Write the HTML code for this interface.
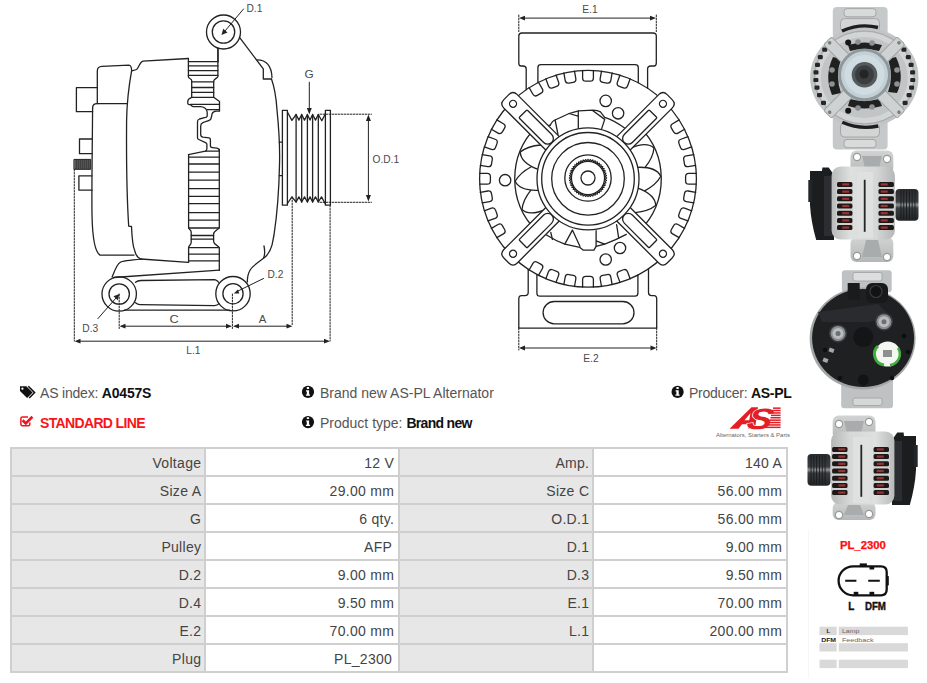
<!DOCTYPE html>
<html><head><meta charset="utf-8">
<style>
html,body{margin:0;padding:0;background:#fff;}
body{width:927px;height:683px;position:relative;overflow:hidden;font-family:"Liberation Sans",sans-serif;}
.a{position:absolute;}
.t{position:absolute;white-space:nowrap;font-size:14px;line-height:14px;color:#555;}
.tb{background:#cfcfcf;}
.c{position:absolute;height:26px;width:192px;}
.c.l{background:#e7e7e7;}
.c.l span{right:2.7px;}
.c.v{background:#fff;}
.c span{position:absolute;right:3.8px;top:7.4px;letter-spacing:0.3px;font-size:14px;line-height:14px;color:#444;white-space:nowrap;}
b{color:#111;}
svg text{font-family:"Liberation Sans",sans-serif;}
</style></head><body>
<svg class="a" style="left:0;top:0" width="927" height="683" viewBox="0 0 927 683">
<g fill="none" stroke="#222" stroke-width="1.3" stroke-linejoin="round" stroke-linecap="round">
<!-- D.1 -->
<circle cx="223.5" cy="32" r="17"/>
<circle cx="223.5" cy="32" r="11.2"/>
<line x1="243.5" y1="9" x2="225" y2="31" stroke-width="1"/>
<path d="M221.5,35 L223.2,28.8 L227.5,32.5 Z" fill="#222" stroke="none"/>
<text x="246.5" y="12.1" font-size="10.2" fill="#4a4a4a" stroke="none">D.1</text>
<!-- stem + diagonal + bump -->
<path d="M218,48.5 L218,61.7"/>
<path d="M239.7,37.7 L263.3,68.9 L263.3,79 L271.5,79"/>
<path d="M257.2,59.9 C266,60 271.5,66 272,77.5"/>
<!-- front housing right edge -->
<path d="M271.5,79 C274,86 276,95 277,110 C279,130 280,150 279.5,165 C279,190 277,215 274,235 C273,240 272.5,243 272,245 C270,252 267,256 263.5,258.3 C257,263 251,267 249.4,271.5 C248,274 247.4,278 247.3,282"/>
<path d="M264,246 C265,251 265,255 263.5,258.3"/>
<!-- shaft -->
<path d="M279.3,142.2 L282.3,142.2 M279.3,175.6 L282.3,175.6"/>
<!-- pulley -->
<rect x="282.4" y="110.3" width="5" height="94.9"/>
<rect x="325.4" y="110.3" width="5" height="94.9"/>
<path d="M287.4,112 L291.9,120.4 L296.1,114.5 L298.9,120.1 L301.7,114.5 L304.5,120.1 L307.4,114.5 L310,120.1 L312.6,114.5 L315.5,120.1 L318.3,114.5 L321.8,120.7 L325.4,113.9"/>
<path d="M287.4,203.5 L291.9,196.9 L296.1,202 L298.9,196.9 L301.7,202 L304.5,196.9 L307.4,202 L310,196.9 L312.6,202 L315.5,196.9 L318.3,202 L321.5,196.9 L325.4,204"/>
<path d="M296.1,114.5 V202 M301.7,114.5 V202 M307.4,114.5 V202 M312.6,114.5 V202 M318.3,114.5 V202"/>
<!-- G -->
<text x="304.5" y="78.1" font-size="10.2" fill="#4a4a4a" stroke="none" textLength="9.2" lengthAdjust="spacingAndGlyphs">G</text>
<line x1="309.3" y1="82.2" x2="309.3" y2="110" stroke-width="1"/>
<path d="M306.8,108 L311.8,108 L309.3,114.5 Z" fill="#222" stroke="none"/>
<!-- O.D.1 -->
<path d="M320,114.2 H371.5 M320,202.3 H371.5" stroke-width="1" stroke-dasharray="1.6 1.4"/>
<line x1="368.4" y1="119" x2="368.4" y2="197" stroke-width="1"/>
<path d="M365.9,121 L370.9,121 L368.4,114.5 Z M365.9,195 L370.9,195 L368.4,201.5 Z" fill="#222" stroke="none"/>
<text x="372.5" y="162.9" font-size="10.2" fill="#4a4a4a" stroke="none">O.D.1</text>
<!-- dotted verticals -->
<path d="M292.2,197 V326 M330.1,205.5 V341 M74.3,169.5 V341 M119.2,294 V328.5 M232.4,294 V328.5" stroke-width="1" stroke-dasharray="1.6 1.4"/>
<!-- dims A C L.1 -->
<path d="M124,326.2 H228 M237,326.2 H288 M80,341.2 H325" stroke-width="1"/>
<path d="M119.5,326.2 L125.5,323.8 L125.5,328.6 Z M232,326.2 L226,323.8 L226,328.6 Z M233,326.2 L239,323.8 L239,328.6 Z M292.5,326.2 L286.5,323.8 L286.5,328.6 Z M74.5,341.2 L80.5,338.8 L80.5,343.6 Z M330,341.2 L324,338.8 L324,343.6 Z" fill="#222" stroke="none"/>
<text x="169.5" y="323.2" font-size="10.2" fill="#4a4a4a" stroke="none" textLength="9.2" lengthAdjust="spacingAndGlyphs">C</text>
<text x="258.8" y="323.0" font-size="10.2" fill="#4a4a4a" stroke="none" textLength="7.6" lengthAdjust="spacingAndGlyphs">A</text>
<text x="186.3" y="354.1" font-size="10.2" fill="#4a4a4a" stroke="none">L.1</text>
<!-- D.2 -->
<circle cx="233" cy="293.7" r="17.2"/>
<circle cx="233" cy="293.7" r="10.1"/>
<line x1="263.5" y1="278.5" x2="238" y2="291" stroke-width="1"/>
<path d="M233.8,293.4 L237.8,289.6 L239.3,293.4 Z" fill="#222" stroke="none"/>
<text x="267.5" y="278.3" font-size="10.2" fill="#4a4a4a" stroke="none">D.2</text>
<!-- D.3 -->
<circle cx="119.2" cy="294" r="17.2"/>
<circle cx="119.2" cy="294" r="10.2"/>
<line x1="97.9" y1="318.6" x2="116" y2="298" stroke-width="1"/>
<path d="M119.4,294 L117.8,300.3 L113.5,296.3 Z" fill="#222" stroke="none"/>
<text x="82.3" y="331.8" font-size="10.2" fill="#4a4a4a" stroke="none">D.3</text>
<!-- bracket/arm -->
<path d="M112.1,277 C115,270 117,264 120,262.5 C122,261 126,260.4 142,259.2"/>
<path d="M113.6,277.5 L219.3,270.2"/>
<path d="M135.5,282.3 C137,281 139,280.5 141,280.5 L214.8,279.6 C216.5,280 218,281 218.6,282.3"/>
<path d="M135.5,302.7 C137,304 138,304.6 140,304.6 L214.5,305.6 C216.5,305.5 218,304.8 219.2,303.6"/>
<path d="M124.2,310.2 H229.9"/>
<!-- left blocks -->
<path d="M97.3,103.7 V71 C97.3,67.5 99,66.4 102,66.3 L128.8,65.2 C130.5,65.3 131.6,67 131.6,70.8"/>
<path d="M92.6,108 C92.6,105 94,103.7 97,103.7 L126.6,103.7"/>
<path d="M92.6,108 C92.3,150 91.6,190 92,215 C92.5,240 95,252 100,255.1 L134,255.1"/>
<path d="M97.3,87.6 H76.4 V111.7 H92.6"/>
<path d="M92,139 H79.5 V153.7 H92"/>
<path d="M92,175.8 H78.9 V190.2 H92"/>
<rect x="74.3" y="159.4" width="16.4" height="9.9" fill="#555" stroke="#222" stroke-width="1"/>
<path d="M76.5,160 V169 M78.5,160 V169 M80.5,160 V169 M82.5,160 V169 M84.5,160 V169 M86.5,160 V169 M88.5,160 V169" stroke="#333" stroke-width="0.6"/>
<!-- main body -->
<path d="M131.6,70.8 C133,70.5 135,70.3 136.5,69.5 C139,68 139.5,62 143,61.2 L188.4,58.5"/>
<path d="M131.6,70.8 C129,85 127,100 126.6,120 C126.3,160 127,200 128.7,226.2 L131.5,226.5 C132,238 133.5,248 134.7,250.6 C136,256 137.5,258 141,259 L188.4,262.4"/>
<!-- fins upper -->
<path d="M188.4,58.5 V77 C188.4,78.5 191.7,78.5 191.7,80.5 V97.3 C189,98.5 187.8,99.5 187.8,101 V103.2 C187.8,104 189,104.7 190.4,104.7 C191.5,105.5 192,106.7 193.5,106.7 L200.7,106.7 C203.5,107 205.5,108 206.5,110 C207.1,111 207.2,112 207.2,113.1 V116.3 C206.8,117.2 205.5,117.6 204.6,117.7 L199.4,119 C198,119.5 197.5,120.3 197.5,121.8 V137.8 C197.5,138.8 198,139.2 198.8,139.5 L205.5,142.7 C206.5,143.2 206.9,143.7 206.9,144.6 V148.6 C206.9,150 206.5,150.8 205.4,151.1 L188.4,154.6"/>
<path d="M217.9,48.5 V76.5 C217.9,78 213.7,79 213.7,81 V97.3 L219.5,101.5 V111.2 L216.2,111.2 C213.8,111.4 212.6,112.3 212.1,113.8 L211.4,117 C211.1,118.5 210.8,119.2 210.2,119.7 C209,120.8 207.5,121.1 205.9,121.5 L202.9,122.7 C201.3,123.4 200.7,124.5 200.7,126.1 V134.5 C200.7,136 201.5,136.9 202.9,137.1 L209.1,137.8 C210,138 210.4,138.6 210.4,139.6 V145.5 C210.4,146.8 211.2,147.5 212.4,147.6 L216.9,148.1 C218.6,148.5 219.4,149.3 219.4,150.6"/>
<path d="M188.4,61.7 H217.9 M188.4,65.8 H217.9 M188.4,70.6 H217.9 M188.4,75.4 H217.9 M191.7,81.9 H213.7 M191.7,87.5 H213.7 M191.7,92.3 H213.7 M191.7,97.3 H213.7 M190.4,104.4 H219.5 M207,109.6 H219.5 M205.4,151.2 H219.4"/>
<!-- fins lower -->
<path d="M188.6,262.3 V247.5 C188.6,245.5 191.2,245 191.2,242.5 V232 C191.2,229.5 188.6,229.5 188.6,227.5 V155"/>
<path d="M219.3,149.5 V227.5 C219.3,229.5 213.6,230.5 213.6,234 V241.5 C213.6,245 219.3,245.5 219.3,248 V270.4"/>
<path d="M188.6,157.1 H219.3 M188.6,164 H219.3 M188.6,172.2 H219.3 M188.6,180.2 H219.3 M188.6,188.6 H219.3 M188.6,196.3 H219.3 M188.6,203.6 H219.3 M188.6,212.7 H219.3 M188.6,220.1 H219.3 M188.6,228 H219.3 M191.2,235.5 H213.6 M191.2,239.1 H213.6 M188.6,247.6 H219.3 M188.6,254.2 H219.3 M188.6,260.8 H219.3"/>

<text x="582.3" y="13.4" font-size="10.2" fill="#4a4a4a" stroke="none">E.1</text>
<path d="M518.8,15 V33 M656.3,15 V33" stroke-width="1" stroke-dasharray="1.6 1.4"/>
<line x1="524" y1="18.1" x2="651" y2="18.1" stroke-width="1"/>
<path d="M519,18.1 L525,15.7 L525,20.5 Z M656,18.1 L650,15.7 L650,20.5 Z" fill="#222" stroke="none"/>
<text x="583.3" y="361.8" font-size="10.2" fill="#4a4a4a" stroke="none">E.2</text>
<path d="M518.8,328 V350 M656.7,328 V350" stroke-width="1" stroke-dasharray="1.6 1.4"/>
<line x1="524" y1="348" x2="651" y2="348" stroke-width="1"/>
<path d="M519,348 L525,345.6 L525,350.4 Z M656.5,348 L650.5,345.6 L650.5,350.4 Z" fill="#222" stroke="none"/>
<path d="M526.2,89.7 V69 C526.2,67 525,66 523,66 L521,66 C519.5,66 518.8,65 518.8,63 V36 C518.8,34 520,33 522,33 L653,33 C655,33 656.3,34 656.3,36 V63 C656.3,65 655.5,66 654,66 L651,66 C649,66 647.6,67 647.6,69 V88.3"/>
<path d="M537.9,82.7 V67.5 C537.9,65.5 539,64.7 541,64.7 L635,64.7 C637,64.7 638.3,65.5 638.3,67.5 V82.8"/>
<path d="M528.2,269.2 V292.5 C528.2,294.5 527,295.6 525,295.6 L521.5,295.6 C519.5,295.6 518.8,297 518.8,299 V328.1 H656.7 V299 C656.7,297 656,295.6 654,295.6 L651.5,295.6 C649.5,295.6 648.5,294.5 648.5,292.5 V268.7"/>
<path d="M536.9,274.4 V293 C536.9,295 538,296.2 540,296.2 L635,296.2 C637,296.2 637.9,295 637.9,293 V275.0"/>
<rect x="543.1" y="301.5" width="90.9" height="22.3" rx="11.15"/>
<circle cx="588.0" cy="178.8" r="108.4"/>
<path transform="rotate(0 588.0 178.8)" d="M582.6,70.4 V78.0 Q582.6,81.2 585.8000000000001,81.2 H590.1999999999999 Q593.4,81.2 593.4,78.0 V70.4"/>
<path transform="rotate(10 588.0 178.8)" d="M582.6,70.4 V78.0 Q582.6,81.2 585.8000000000001,81.2 H590.1999999999999 Q593.4,81.2 593.4,78.0 V70.4"/>
<path transform="rotate(20 588.0 178.8)" d="M582.6,70.4 V78.0 Q582.6,81.2 585.8000000000001,81.2 H590.1999999999999 Q593.4,81.2 593.4,78.0 V70.4"/>
<path transform="rotate(60 588.0 178.8)" d="M582.6,70.4 V78.0 Q582.6,81.2 585.8000000000001,81.2 H590.1999999999999 Q593.4,81.2 593.4,78.0 V70.4"/>
<path transform="rotate(70 588.0 178.8)" d="M582.6,70.4 V78.0 Q582.6,81.2 585.8000000000001,81.2 H590.1999999999999 Q593.4,81.2 593.4,78.0 V70.4"/>
<path transform="rotate(80 588.0 178.8)" d="M582.6,70.4 V78.0 Q582.6,81.2 585.8000000000001,81.2 H590.1999999999999 Q593.4,81.2 593.4,78.0 V70.4"/>
<path transform="rotate(90 588.0 178.8)" d="M582.6,70.4 V78.0 Q582.6,81.2 585.8000000000001,81.2 H590.1999999999999 Q593.4,81.2 593.4,78.0 V70.4"/>
<path transform="rotate(100 588.0 178.8)" d="M582.6,70.4 V78.0 Q582.6,81.2 585.8000000000001,81.2 H590.1999999999999 Q593.4,81.2 593.4,78.0 V70.4"/>
<path transform="rotate(110 588.0 178.8)" d="M582.6,70.4 V78.0 Q582.6,81.2 585.8000000000001,81.2 H590.1999999999999 Q593.4,81.2 593.4,78.0 V70.4"/>
<path transform="rotate(120 588.0 178.8)" d="M582.6,70.4 V78.0 Q582.6,81.2 585.8000000000001,81.2 H590.1999999999999 Q593.4,81.2 593.4,78.0 V70.4"/>
<path transform="rotate(160 588.0 178.8)" d="M582.6,70.4 V78.0 Q582.6,81.2 585.8000000000001,81.2 H590.1999999999999 Q593.4,81.2 593.4,78.0 V70.4"/>
<path transform="rotate(170 588.0 178.8)" d="M582.6,70.4 V78.0 Q582.6,81.2 585.8000000000001,81.2 H590.1999999999999 Q593.4,81.2 593.4,78.0 V70.4"/>
<path transform="rotate(180 588.0 178.8)" d="M582.6,70.4 V78.0 Q582.6,81.2 585.8000000000001,81.2 H590.1999999999999 Q593.4,81.2 593.4,78.0 V70.4"/>
<path transform="rotate(190 588.0 178.8)" d="M582.6,70.4 V78.0 Q582.6,81.2 585.8000000000001,81.2 H590.1999999999999 Q593.4,81.2 593.4,78.0 V70.4"/>
<path transform="rotate(200 588.0 178.8)" d="M582.6,70.4 V78.0 Q582.6,81.2 585.8000000000001,81.2 H590.1999999999999 Q593.4,81.2 593.4,78.0 V70.4"/>
<path transform="rotate(210 588.0 178.8)" d="M582.6,70.4 V78.0 Q582.6,81.2 585.8000000000001,81.2 H590.1999999999999 Q593.4,81.2 593.4,78.0 V70.4"/>
<path transform="rotate(240 588.0 178.8)" d="M582.6,70.4 V78.0 Q582.6,81.2 585.8000000000001,81.2 H590.1999999999999 Q593.4,81.2 593.4,78.0 V70.4"/>
<path transform="rotate(250 588.0 178.8)" d="M582.6,70.4 V78.0 Q582.6,81.2 585.8000000000001,81.2 H590.1999999999999 Q593.4,81.2 593.4,78.0 V70.4"/>
<path transform="rotate(260 588.0 178.8)" d="M582.6,70.4 V78.0 Q582.6,81.2 585.8000000000001,81.2 H590.1999999999999 Q593.4,81.2 593.4,78.0 V70.4"/>
<path transform="rotate(270 588.0 178.8)" d="M582.6,70.4 V78.0 Q582.6,81.2 585.8000000000001,81.2 H590.1999999999999 Q593.4,81.2 593.4,78.0 V70.4"/>
<path transform="rotate(280 588.0 178.8)" d="M582.6,70.4 V78.0 Q582.6,81.2 585.8000000000001,81.2 H590.1999999999999 Q593.4,81.2 593.4,78.0 V70.4"/>
<path transform="rotate(290 588.0 178.8)" d="M582.6,70.4 V78.0 Q582.6,81.2 585.8000000000001,81.2 H590.1999999999999 Q593.4,81.2 593.4,78.0 V70.4"/>
<path transform="rotate(300 588.0 178.8)" d="M582.6,70.4 V78.0 Q582.6,81.2 585.8000000000001,81.2 H590.1999999999999 Q593.4,81.2 593.4,78.0 V70.4"/>
<path transform="rotate(330 588.0 178.8)" d="M582.6,70.4 V78.0 Q582.6,81.2 585.8000000000001,81.2 H590.1999999999999 Q593.4,81.2 593.4,78.0 V70.4"/>
<path transform="rotate(340 588.0 178.8)" d="M582.6,70.4 V78.0 Q582.6,81.2 585.8000000000001,81.2 H590.1999999999999 Q593.4,81.2 593.4,78.0 V70.4"/>
<path transform="rotate(350 588.0 178.8)" d="M582.6,70.4 V78.0 Q582.6,81.2 585.8000000000001,81.2 H590.1999999999999 Q593.4,81.2 593.4,78.0 V70.4"/>
<path d="M639.8,127.0 A73.2,73.2 0 0 1 639.8,230.6"/>
<path fill="#fff" stroke="none" d="M654.0,148.0 Q646.3,140.9 629.3,148.8 L638.2,169.9 L644.9,167.7 Q653.1,157.6 654.0,148.0 Z"/>
<path d="M629.3,148.8 Q646.3,140.9 654.0,148.0 Q653.1,157.6 644.9,167.7"/>
<path fill="#fff" stroke="none" d="M660.8,176.3 Q656.4,166.7 637.7,167.3 L637.7,190.3 L644.7,190.9 Q656.2,184.8 660.8,176.3 Z"/>
<path d="M637.7,167.3 Q656.4,166.7 660.8,176.3 Q656.2,184.8 644.7,190.9"/>
<path fill="#fff" stroke="none" d="M655.7,205.6 Q655.6,195.1 638.1,188.2 L628.9,209.2 L635.2,212.6 Q648.1,211.6 655.7,205.6 Z"/>
<path d="M638.1,188.2 Q655.6,195.1 655.7,205.6 Q648.1,211.6 635.2,212.6"/>
<path d="M536.2,230.6 A73.2,73.2 0 0 1 536.2,127.0"/>
<path fill="#fff" stroke="none" d="M522.0,209.6 Q529.7,216.7 546.7,208.8 L537.8,187.7 L531.1,189.9 Q522.9,200.0 522.0,209.6 Z"/>
<path d="M546.7,208.8 Q529.7,216.7 522.0,209.6 Q522.9,200.0 531.1,189.9"/>
<path fill="#fff" stroke="none" d="M515.2,181.3 Q519.6,190.9 538.3,190.3 L538.3,167.3 L531.3,166.7 Q519.8,172.8 515.2,181.3 Z"/>
<path d="M538.3,190.3 Q519.6,190.9 515.2,181.3 Q519.8,172.8 531.3,166.7"/>
<path fill="#fff" stroke="none" d="M520.3,152.0 Q520.4,162.5 537.9,169.4 L547.1,148.4 L540.8,145.0 Q527.9,146.0 520.3,152.0 Z"/>
<path d="M537.9,169.4 Q520.4,162.5 520.3,152.0 Q527.9,146.0 540.8,145.0"/>
<path d="M546,129 Q549,124 550.2,125.4 Q552,121 555.1,120 L569.1,113.5 Q574,112 578.8,110.8 L592.9,110.2 Q598,110.5 600.4,111.9 L604.7,117.3 Q614,120 626,129"/>
<path d="M555.1,120 L558,134.5 M569.1,113.5 L578,116.2 M578.3,110.8 V128 M592.9,110.8 L604.7,119.4 L601.5,129.1"/>
<path d="M546.5,235 Q556,241 564.8,244.1 L579.9,247.4 L583.1,250.1 L593.9,250.1 L596.1,246.3 L604.7,244.1 Q616,240 626.3,234.4"/>
<path d="M550.8,232.3 L552.4,239.3 M572.4,230.1 L564.8,244.1 M572.4,230.1 L579.9,246.3 M596.1,230.6 V246.3 M596.1,240.9 L604.7,244.1 M616.6,224.7 L618.7,238.2"/>
<g transform="rotate(45 588.0 178.8)"><path d="M578.5,136.8 V69.30000000000001 Q578.5,63.30000000000001 584.5,63.30000000000001 H591.5 Q597.5,63.30000000000001 597.5,69.30000000000001 V136.8" fill="#fff"/><circle cx="588.0" cy="72.80000000000001" r="3.5"/><path d="M582.3,87.80000000000001 Q582.3,86.80000000000001 583.3,86.80000000000001 H592.7 Q593.7,86.80000000000001 593.7,87.80000000000001 V121.80000000000001 A5.7,5.7 0 0 1 582.3,121.80000000000001 Z"/></g>
<g transform="rotate(135 588.0 178.8)"><path d="M578.5,136.8 V69.30000000000001 Q578.5,63.30000000000001 584.5,63.30000000000001 H591.5 Q597.5,63.30000000000001 597.5,69.30000000000001 V136.8" fill="#fff"/><circle cx="588.0" cy="72.80000000000001" r="3.5"/><path d="M582.3,87.80000000000001 Q582.3,86.80000000000001 583.3,86.80000000000001 H592.7 Q593.7,86.80000000000001 593.7,87.80000000000001 V121.80000000000001 A5.7,5.7 0 0 1 582.3,121.80000000000001 Z"/></g>
<g transform="rotate(225 588.0 178.8)"><path d="M578.5,136.8 V69.30000000000001 Q578.5,63.30000000000001 584.5,63.30000000000001 H591.5 Q597.5,63.30000000000001 597.5,69.30000000000001 V136.8" fill="#fff"/><circle cx="588.0" cy="72.80000000000001" r="3.5"/><path d="M582.3,87.80000000000001 Q582.3,86.80000000000001 583.3,86.80000000000001 H592.7 Q593.7,86.80000000000001 593.7,87.80000000000001 V121.80000000000001 A5.7,5.7 0 0 1 582.3,121.80000000000001 Z"/></g>
<g transform="rotate(315 588.0 178.8)"><path d="M578.5,136.8 V69.30000000000001 Q578.5,63.30000000000001 584.5,63.30000000000001 H591.5 Q597.5,63.30000000000001 597.5,69.30000000000001 V136.8" fill="#fff"/><circle cx="588.0" cy="72.80000000000001" r="3.5"/><path d="M582.3,87.80000000000001 Q582.3,86.80000000000001 583.3,86.80000000000001 H592.7 Q593.7,86.80000000000001 593.7,87.80000000000001 V121.80000000000001 A5.7,5.7 0 0 1 582.3,121.80000000000001 Z"/></g>
<circle cx="588.0" cy="178.8" r="51" fill="#fff"/>
<circle cx="588.0" cy="178.8" r="46.3"/>
<circle cx="588.0" cy="178.8" r="36.3"/>
<circle cx="588.0" cy="178.0" r="23.2"/>
<polygon points="588.00,159.30 589.12,160.84 590.44,159.46 591.36,161.13 592.84,159.94 593.53,161.71 595.16,160.72 595.61,162.57 597.35,161.81 597.56,163.70 599.38,163.16 599.34,165.07 601.22,164.78 600.93,166.66 602.84,166.62 602.30,168.44 604.19,168.65 603.43,170.39 605.28,170.84 604.29,172.47 606.06,173.16 604.87,174.64 606.54,175.56 605.16,176.88 606.70,178.00 605.16,179.12 606.54,180.44 604.87,181.36 606.06,182.84 604.29,183.53 605.28,185.16 603.43,185.61 604.19,187.35 602.30,187.56 602.84,189.38 600.93,189.34 601.22,191.22 599.34,190.93 599.38,192.84 597.56,192.30 597.35,194.19 595.61,193.43 595.16,195.28 593.53,194.29 592.84,196.06 591.36,194.87 590.44,196.54 589.12,195.16 588.00,196.70 586.88,195.16 585.56,196.54 584.64,194.87 583.16,196.06 582.47,194.29 580.84,195.28 580.39,193.43 578.65,194.19 578.44,192.30 576.62,192.84 576.66,190.93 574.78,191.22 575.07,189.34 573.16,189.38 573.70,187.56 571.81,187.35 572.57,185.61 570.72,185.16 571.71,183.53 569.94,182.84 571.13,181.36 569.46,180.44 570.84,179.12 569.30,178.00 570.84,176.88 569.46,175.56 571.13,174.64 569.94,173.16 571.71,172.47 570.72,170.84 572.57,170.39 571.81,168.65 573.70,168.44 573.16,166.62 575.07,166.66 574.78,164.78 576.66,165.07 576.62,163.16 578.44,163.70 578.65,161.81 580.39,162.57 580.84,160.72 582.47,161.71 583.16,159.94 584.64,161.13 585.56,159.46 586.88,160.84" stroke-width="1.1"/>
<circle cx="588.0" cy="178.0" r="16.6" stroke-width="1.3"/>
<circle cx="588.0" cy="178.0" r="7"/>
<circle cx="505.1" cy="180.2" r="5.7"/>
<circle cx="605.7" cy="100.9" r="5.7"/>
<circle cx="618.1" cy="113.3" r="5.7"/>
<circle cx="620" cy="248" r="5.7"/>
<circle cx="605.7" cy="259.5" r="5.7"/>
</g>
<defs>
<radialGradient id="gBody" cx="0.45" cy="0.4" r="0.7"><stop offset="0" stop-color="#d4d7d7"/><stop offset="0.7" stop-color="#bfc2c2"/><stop offset="1" stop-color="#a9adad"/></radialGradient>
<linearGradient id="gSide" x1="0" y1="0" x2="1" y2="0"><stop offset="0" stop-color="#b9bbbb"/><stop offset="0.3" stop-color="#dedfdf"/><stop offset="0.7" stop-color="#d6d7d7"/><stop offset="1" stop-color="#b5b7b7"/></linearGradient>
<linearGradient id="gBr" x1="0" y1="0" x2="0" y2="1"><stop offset="0" stop-color="#d2d4d4"/><stop offset="1" stop-color="#b4b7b7"/></linearGradient>
<radialGradient id="gPul" cx="0.5" cy="0.5" r="0.5"><stop offset="0" stop-color="#606060"/><stop offset="0.45" stop-color="#3a3a3a"/><stop offset="0.5" stop-color="#c9d4d9"/><stop offset="0.85" stop-color="#d5dee2"/><stop offset="1" stop-color="#9aa2a6"/></radialGradient>
<linearGradient id="gPulSide" x1="0" y1="0" x2="0" y2="1"><stop offset="0" stop-color="#2a2c2e"/><stop offset="0.4" stop-color="#3a3d40"/><stop offset="0.5" stop-color="#8e9496"/><stop offset="0.6" stop-color="#3a3d40"/><stop offset="1" stop-color="#222426"/></linearGradient>
</defs>
<rect x="832.8" y="6.9" width="54.8" height="32" rx="4" fill="#c6c9c9"/>
<rect x="844" y="8.6" width="32" height="8.2" rx="3" fill="#d9dbdb" stroke="#a3a7a7" stroke-width="1"/>
<rect x="840.5" y="18.6" width="39" height="13" rx="4" fill="#d3d5d5" stroke="#a3a7a7" stroke-width="1"/>
<rect x="832.8" y="114" width="54.8" height="35.5" rx="4" fill="#c6c9c9"/>
<rect x="844" y="139.5" width="32" height="8.2" rx="3" fill="#d9dbdb" stroke="#a3a7a7" stroke-width="1"/>
<rect x="840.5" y="123" width="39" height="14" rx="4" fill="#d3d5d5" stroke="#a3a7a7" stroke-width="1"/>
<ellipse cx="864.3" cy="77.5" rx="54.2" ry="50" fill="#c2c5c5"/>
<ellipse cx="864.3" cy="77.5" rx="46" ry="43" fill="none" stroke="#d2d5d5" stroke-width="5"/>
<ellipse cx="864.3" cy="77.5" rx="50" ry="46.5" fill="none" stroke="#a4a8a8" stroke-width="1"/>
<path d="M842,31 Q860,23 878,27.5" fill="none" stroke="#1e1e1e" stroke-width="3.4"/>
<path d="M842.3,122.3 Q860,130 878.3,126" fill="none" stroke="#1e1e1e" stroke-width="3.4"/>
<rect x="822.2" y="47.5" width="5" height="4.2" rx="1.2" fill="#262626"/>
<rect x="901.4" y="47.5" width="5" height="4.2" rx="1.2" fill="#262626"/>
<rect x="817.8" y="55.1" width="5" height="4.2" rx="1.2" fill="#262626"/>
<rect x="905.8" y="55.1" width="5" height="4.2" rx="1.2" fill="#262626"/>
<rect x="815.0" y="62.7" width="5" height="4.2" rx="1.2" fill="#262626"/>
<rect x="908.6" y="62.7" width="5" height="4.2" rx="1.2" fill="#262626"/>
<rect x="813.5" y="70.3" width="5" height="4.2" rx="1.2" fill="#262626"/>
<rect x="910.1" y="70.3" width="5" height="4.2" rx="1.2" fill="#262626"/>
<rect x="813.4" y="77.9" width="5" height="4.2" rx="1.2" fill="#262626"/>
<rect x="910.2" y="77.9" width="5" height="4.2" rx="1.2" fill="#262626"/>
<rect x="814.5" y="85.5" width="5" height="4.2" rx="1.2" fill="#262626"/>
<rect x="909.1" y="85.5" width="5" height="4.2" rx="1.2" fill="#262626"/>
<rect x="817.0" y="93.1" width="5" height="4.2" rx="1.2" fill="#262626"/>
<rect x="906.6" y="93.1" width="5" height="4.2" rx="1.2" fill="#262626"/>
<rect x="821.0" y="100.7" width="5" height="4.2" rx="1.2" fill="#262626"/>
<rect x="902.6" y="100.7" width="5" height="4.2" rx="1.2" fill="#262626"/>
<path d="M833,57 Q824,76 832,95 L841,93 Q835,76 841,59 Z" fill="#1f2020"/>
<path d="M896,57 Q905,76 897,93 L888,92 Q894,76 888,59 Z" fill="#1f2020"/>
<path d="M848,45 Q864,40 882,45 L879,51 Q864,47 850,51 Z" fill="#1f2020"/>
<path d="M848,106 Q864,111 882,106 L879,99 Q864,103 850,99 Z" fill="#1f2020"/>
<circle cx="858" cy="42" r="2.8" fill="#8c9090"/>
<circle cx="872" cy="43" r="2.8" fill="#8c9090"/>
<circle cx="858" cy="108" r="2.8" fill="#8c9090"/>
<circle cx="872" cy="107" r="2.8" fill="#8c9090"/>
<circle cx="832" cy="70" r="2.8" fill="#8c9090"/>
<circle cx="832" cy="84" r="2.8" fill="#8c9090"/>
<circle cx="897" cy="70" r="2.8" fill="#8c9090"/>
<circle cx="897" cy="84" r="2.8" fill="#8c9090"/>
<rect x="858.8" y="25.5" width="11" height="32" rx="2" fill="#cfd2d2" stroke="#9ea2a2" stroke-width="1" transform="rotate(45 864.3 77.5)"/>
<circle cx="864.3" cy="28.5" r="1.8" fill="#7a7e7e" transform="rotate(45 864.3 77.5)"/>
<rect x="858.8" y="25.5" width="11" height="32" rx="2" fill="#cfd2d2" stroke="#9ea2a2" stroke-width="1" transform="rotate(135 864.3 77.5)"/>
<circle cx="864.3" cy="28.5" r="1.8" fill="#7a7e7e" transform="rotate(135 864.3 77.5)"/>
<rect x="858.8" y="25.5" width="11" height="32" rx="2" fill="#cfd2d2" stroke="#9ea2a2" stroke-width="1" transform="rotate(225 864.3 77.5)"/>
<circle cx="864.3" cy="28.5" r="1.8" fill="#7a7e7e" transform="rotate(225 864.3 77.5)"/>
<rect x="858.8" y="25.5" width="11" height="32" rx="2" fill="#cfd2d2" stroke="#9ea2a2" stroke-width="1" transform="rotate(315 864.3 77.5)"/>
<circle cx="864.3" cy="28.5" r="1.8" fill="#7a7e7e" transform="rotate(315 864.3 77.5)"/>
<circle cx="848.2" cy="42.5" r="3" fill="#161616"/><circle cx="848.2" cy="110.7" r="3" fill="#161616"/>
<circle cx="864.5" cy="74.8" r="26.4" fill="#8f989c"/>
<circle cx="864.5" cy="74.8" r="23.5" fill="#c3d0d6"/>
<circle cx="864.5" cy="74.8" r="20" fill="#cfdce1"/>
<circle cx="864.5" cy="74.8" r="12.8" fill="#54595c"/>
<circle cx="864.5" cy="74.8" r="9.5" fill="#3a3e40"/>
<circle cx="864" cy="74" r="4.5" fill="#232526"/>
<g transform="translate(0,0)"><rect x="850.5" y="150.5" width="42.8" height="24" rx="6" fill="url(#gBr)"/>
<path d="M862,156 L882,156 L878,172 L866,172 Z" fill="#a9acac"/>
<circle cx="857" cy="157" r="3.6" fill="#fff" stroke="#999" stroke-width="1.2"/>
<circle cx="887" cy="159" r="3.6" fill="#fff" stroke="#999" stroke-width="1.2"/>
<rect x="850.5" y="237" width="42.8" height="25" rx="6" fill="url(#gBr)"/>
<path d="M866,240 L878,240 L882,257 L862,257 Z" fill="#a9acac"/>
<circle cx="857" cy="256" r="3.6" fill="#fff" stroke="#999" stroke-width="1.2"/>
<circle cx="887" cy="257" r="3.6" fill="#fff" stroke="#999" stroke-width="1.2"/>
<path d="M810,171 L822,171 L822.4,167.5 L828.7,167.5 L834,175 L834,240 L816.2,240 Q811,222 810,205 Z" fill="#1c1d1f"/>
<rect x="808.3" y="180" width="4" height="22" fill="#242527"/>
<rect x="824" y="176" width="8" height="60" fill="#2c2d30"/>
<rect x="831.6" y="166.6" width="63.3" height="73" rx="9" fill="url(#gSide)"/>
<rect x="836.2" y="182.4" width="16.8" height="46.1" rx="3" fill="#cfd1d1"/>
<rect x="837.0" y="181.9" width="15.4" height="5" rx="1.5" fill="#1e1818"/>
<rect x="842.2" y="183.3" width="7" height="2.2" fill="#9a3430"/>
<rect x="837.0" y="189.1" width="15.4" height="5" rx="1.5" fill="#1e1818"/>
<rect x="842.2" y="190.5" width="7" height="2.2" fill="#9a3430"/>
<rect x="837.0" y="196.3" width="15.4" height="5" rx="1.5" fill="#1e1818"/>
<rect x="842.2" y="197.7" width="7" height="2.2" fill="#9a3430"/>
<rect x="837.0" y="203.5" width="15.4" height="5" rx="1.5" fill="#1e1818"/>
<rect x="842.2" y="204.9" width="7" height="2.2" fill="#9a3430"/>
<rect x="837.0" y="210.7" width="15.4" height="5" rx="1.5" fill="#1e1818"/>
<rect x="842.2" y="212.1" width="7" height="2.2" fill="#9a3430"/>
<rect x="837.0" y="217.9" width="15.4" height="5" rx="1.5" fill="#1e1818"/>
<rect x="842.2" y="219.3" width="7" height="2.2" fill="#9a3430"/>
<rect x="837.0" y="225.1" width="15.4" height="5" rx="1.5" fill="#1e1818"/>
<rect x="842.2" y="226.5" width="7" height="2.2" fill="#9a3430"/>
<rect x="877.7" y="182.4" width="16.8" height="46.1" rx="3" fill="#cfd1d1"/>
<rect x="878.5" y="181.9" width="15.4" height="5" rx="1.5" fill="#1e1818"/>
<rect x="880.7" y="183.3" width="7" height="2.2" fill="#9a3430"/>
<rect x="878.5" y="189.1" width="15.4" height="5" rx="1.5" fill="#1e1818"/>
<rect x="880.7" y="190.5" width="7" height="2.2" fill="#9a3430"/>
<rect x="878.5" y="196.3" width="15.4" height="5" rx="1.5" fill="#1e1818"/>
<rect x="880.7" y="197.7" width="7" height="2.2" fill="#9a3430"/>
<rect x="878.5" y="203.5" width="15.4" height="5" rx="1.5" fill="#1e1818"/>
<rect x="880.7" y="204.9" width="7" height="2.2" fill="#9a3430"/>
<rect x="878.5" y="210.7" width="15.4" height="5" rx="1.5" fill="#1e1818"/>
<rect x="880.7" y="212.1" width="7" height="2.2" fill="#9a3430"/>
<rect x="878.5" y="217.9" width="15.4" height="5" rx="1.5" fill="#1e1818"/>
<rect x="880.7" y="219.3" width="7" height="2.2" fill="#9a3430"/>
<rect x="878.5" y="225.1" width="15.4" height="5" rx="1.5" fill="#1e1818"/>
<rect x="880.7" y="226.5" width="7" height="2.2" fill="#9a3430"/>
<rect x="857" y="172" width="16" height="66" fill="#dfe0e0"/>
<rect x="863.8" y="179.8" width="1.8" height="52" fill="#252525"/>
<rect x="895.5" y="189" width="23" height="31.7" rx="4" fill="url(#gPulSide)"/>
<rect x="900.5" y="190.5" width="0.9" height="28.7" fill="#1a1b1c"/>
<rect x="903.3" y="190.5" width="0.9" height="28.7" fill="#1a1b1c"/>
<rect x="906.1" y="190.5" width="0.9" height="28.7" fill="#1a1b1c"/>
<rect x="908.9" y="190.5" width="0.9" height="28.7" fill="#1a1b1c"/>
<rect x="911.7" y="190.5" width="0.9" height="28.7" fill="#1a1b1c"/>
<rect x="914.5" y="190.5" width="0.9" height="28.7" fill="#1a1b1c"/></g>
<rect x="841.9" y="270.3" width="49.8" height="22" rx="3" fill="#bfc2c2"/>
<rect x="853" y="272.5" width="29" height="8.5" rx="2" fill="#dcdede" stroke="#9da1a1" stroke-width="0.8"/>
<rect x="841.2" y="378" width="51.8" height="30.3" rx="3" fill="#bfc2c2"/>
<rect x="853" y="398" width="29" height="7.5" rx="2" fill="#d6d8d8" stroke="#9da1a1" stroke-width="0.8"/>
<ellipse cx="862.6" cy="338.5" rx="53" ry="51" fill="#a3a6a6"/>
<ellipse cx="863.1" cy="338.0" rx="51" ry="49" fill="#1f2022"/>
<rect x="847.7" y="283" width="12" height="17" fill="#1a1b1d"/>
<rect x="866" y="283" width="22" height="20" rx="6" fill="#18191b"/>
<circle cx="876" cy="291.5" r="6" fill="#121314" stroke="#3a3b3d" stroke-width="1.2"/>
<path d="M818,312 L878,304 L890,316 L870,322 L822,322 Z" fill="#2a2b2e"/>
<circle cx="838" cy="333.4" r="9" fill="#3a3b3d"/>
<circle cx="838" cy="333.4" r="7.5" fill="#8a8e90"/>
<circle cx="838" cy="333.4" r="5.5" fill="#b8bcbe"/>
<circle cx="838" cy="333.4" r="2.5" fill="#6c7072"/>
<circle cx="884" cy="321.7" r="9" fill="#3a3b3d"/>
<circle cx="884" cy="321.7" r="7.5" fill="#8a8e90"/>
<circle cx="884" cy="321.7" r="5.5" fill="#b8bcbe"/>
<circle cx="884" cy="321.7" r="2.5" fill="#6c7072"/>
<circle cx="863.3" cy="337.1" r="10" fill="#141516"/>
<circle cx="863.3" cy="380" r="5.5" fill="#121314"/>
<circle cx="904" cy="336" r="2.2" fill="#0e0f10"/>
<circle cx="908" cy="352" r="2.2" fill="#0e0f10"/>
<circle cx="825" cy="350" r="2.2" fill="#0e0f10"/>
<circle cx="840" cy="378" r="2.2" fill="#0e0f10"/>
<circle cx="892" cy="378" r="2.2" fill="#0e0f10"/>
<rect x="829" y="348" width="5" height="4" fill="#a4a7a7" transform="rotate(20 831 350)"/><rect x="823" y="358" width="5" height="4" fill="#a4a7a7" transform="rotate(20 825 360)"/>
<circle cx="887.8" cy="354" r="12.6" fill="#f3f6f1"/>
<path d="M878,346 A11,11 0 0 0 884,365" fill="none" stroke="#3fae3c" stroke-width="3"/>
<path d="M898,348 A11,11 0 0 1 890,365" fill="none" stroke="#3fae3c" stroke-width="2.5"/>
<rect x="883" y="350" width="9" height="7" fill="#8e9090"/>
<g transform="translate(1726,265) scale(-1,1)"><rect x="850.5" y="150.5" width="42.8" height="24" rx="6" fill="url(#gBr)"/>
<path d="M862,156 L882,156 L878,172 L866,172 Z" fill="#a9acac"/>
<circle cx="857" cy="157" r="3.6" fill="#fff" stroke="#999" stroke-width="1.2"/>
<circle cx="887" cy="159" r="3.6" fill="#fff" stroke="#999" stroke-width="1.2"/>
<rect x="850.5" y="237" width="42.8" height="18" rx="6" fill="url(#gBr)"/>
<path d="M866,240 L878,240 L882,250 L862,250 Z" fill="#a9acac"/>
<circle cx="857" cy="249" r="3.6" fill="#fff" stroke="#999" stroke-width="1.2"/>
<circle cx="887" cy="250" r="3.6" fill="#fff" stroke="#999" stroke-width="1.2"/>
<path d="M810,171 L822,171 L822.4,167.5 L828.7,167.5 L834,175 L834,240 L816.2,240 Q811,222 810,205 Z" fill="#1c1d1f"/>
<rect x="808.3" y="180" width="4" height="22" fill="#242527"/>
<rect x="824" y="176" width="8" height="60" fill="#2c2d30"/>
<rect x="831.6" y="166.6" width="63.3" height="73" rx="9" fill="url(#gSide)"/>
<rect x="836.2" y="182.4" width="16.8" height="46.1" rx="3" fill="#cfd1d1"/>
<rect x="837.0" y="181.9" width="15.4" height="5" rx="1.5" fill="#1e1818"/>
<rect x="842.2" y="183.3" width="7" height="2.2" fill="#9a3430"/>
<rect x="837.0" y="189.1" width="15.4" height="5" rx="1.5" fill="#1e1818"/>
<rect x="842.2" y="190.5" width="7" height="2.2" fill="#9a3430"/>
<rect x="837.0" y="196.3" width="15.4" height="5" rx="1.5" fill="#1e1818"/>
<rect x="842.2" y="197.7" width="7" height="2.2" fill="#9a3430"/>
<rect x="837.0" y="203.5" width="15.4" height="5" rx="1.5" fill="#1e1818"/>
<rect x="842.2" y="204.9" width="7" height="2.2" fill="#9a3430"/>
<rect x="837.0" y="210.7" width="15.4" height="5" rx="1.5" fill="#1e1818"/>
<rect x="842.2" y="212.1" width="7" height="2.2" fill="#9a3430"/>
<rect x="837.0" y="217.9" width="15.4" height="5" rx="1.5" fill="#1e1818"/>
<rect x="842.2" y="219.3" width="7" height="2.2" fill="#9a3430"/>
<rect x="837.0" y="225.1" width="15.4" height="5" rx="1.5" fill="#1e1818"/>
<rect x="842.2" y="226.5" width="7" height="2.2" fill="#9a3430"/>
<rect x="877.7" y="182.4" width="16.8" height="46.1" rx="3" fill="#cfd1d1"/>
<rect x="878.5" y="181.9" width="15.4" height="5" rx="1.5" fill="#1e1818"/>
<rect x="880.7" y="183.3" width="7" height="2.2" fill="#9a3430"/>
<rect x="878.5" y="189.1" width="15.4" height="5" rx="1.5" fill="#1e1818"/>
<rect x="880.7" y="190.5" width="7" height="2.2" fill="#9a3430"/>
<rect x="878.5" y="196.3" width="15.4" height="5" rx="1.5" fill="#1e1818"/>
<rect x="880.7" y="197.7" width="7" height="2.2" fill="#9a3430"/>
<rect x="878.5" y="203.5" width="15.4" height="5" rx="1.5" fill="#1e1818"/>
<rect x="880.7" y="204.9" width="7" height="2.2" fill="#9a3430"/>
<rect x="878.5" y="210.7" width="15.4" height="5" rx="1.5" fill="#1e1818"/>
<rect x="880.7" y="212.1" width="7" height="2.2" fill="#9a3430"/>
<rect x="878.5" y="217.9" width="15.4" height="5" rx="1.5" fill="#1e1818"/>
<rect x="880.7" y="219.3" width="7" height="2.2" fill="#9a3430"/>
<rect x="878.5" y="225.1" width="15.4" height="5" rx="1.5" fill="#1e1818"/>
<rect x="880.7" y="226.5" width="7" height="2.2" fill="#9a3430"/>
<rect x="857" y="172" width="16" height="66" fill="#dfe0e0"/>
<rect x="863.8" y="179.8" width="1.8" height="52" fill="#252525"/>
<rect x="895.5" y="189" width="23" height="31.7" rx="4" fill="url(#gPulSide)"/>
<rect x="900.5" y="190.5" width="0.9" height="28.7" fill="#1a1b1c"/>
<rect x="903.3" y="190.5" width="0.9" height="28.7" fill="#1a1b1c"/>
<rect x="906.1" y="190.5" width="0.9" height="28.7" fill="#1a1b1c"/>
<rect x="908.9" y="190.5" width="0.9" height="28.7" fill="#1a1b1c"/>
<rect x="911.7" y="190.5" width="0.9" height="28.7" fill="#1a1b1c"/>
<rect x="914.5" y="190.5" width="0.9" height="28.7" fill="#1a1b1c"/></g>
</svg>
<svg class="a" style="left:0;top:0" width="927" height="683" viewBox="0 0 927 683">
<!-- tags icon -->
<path d="M20,386.3 L26.3,386.3 L32.6,392.6 L27.1,398 L20,390.9 Z" fill="#111"/>
<circle cx="22.4" cy="388.7" r="1.1" fill="#fff"/>
<path d="M28.3,386.3 L34.6,392.6 L29.2,398" fill="none" stroke="#111" stroke-width="1.5"/>
<!-- checkbox icon -->
<path d="M29.8,422.5 V424.3 Q29.8,425.8 28.3,425.8 H22.4 Q20.9,425.8 20.9,424.3 V418.5 Q20.9,417 22.4,417 H28" fill="none" stroke="#f0141e" stroke-width="1.5"/>
<path d="M22.6,420.2 L25.8,423.4 L32.4,416.8" fill="none" stroke="#f0141e" stroke-width="2.7"/>
<!-- info icons -->
<g>
<circle cx="308" cy="391.9" r="6.1" fill="#111"/>
<path d="M306.8,387.1 h2.3 v1.8 h-2.3 Z M306,390.2 h3.1 v4.4 h0.9 v1.2 h-4.1 v-1.2 h0.9 v-3.2 h-0.8 Z" fill="#fff"/>
</g>
<g transform="translate(0,30.2)"><circle cx="308" cy="391.9" r="6.1" fill="#111"/>
<path d="M306.8,387.1 h2.3 v1.8 h-2.3 Z M306,390.2 h3.1 v4.4 h0.9 v1.2 h-4.1 v-1.2 h0.9 v-3.2 h-0.8 Z" fill="#fff"/></g>
<g transform="translate(369.6,0)"><circle cx="308" cy="391.9" r="6.1" fill="#111"/>
<path d="M306.8,387.1 h2.3 v1.8 h-2.3 Z M306,390.2 h3.1 v4.4 h0.9 v1.2 h-4.1 v-1.2 h0.9 v-3.2 h-0.8 Z" fill="#fff"/></g>
<!-- AS logo -->
<g fill="#e31e24">
<path d="M729.5,428.7 L751.5,407.3 L758,407.3 L755,428.7 L748.2,428.7 L748.8,424.2 L742,424.2 L738.5,428.7 Z M744.5,420.3 L749.3,420.3 L750.4,413.3 Z" fill-rule="evenodd"/>
<text x="745.5" y="428.7" font-size="29.5" font-weight="bold" font-style="italic" fill="#e31e24" stroke="#fff" stroke-width="1.2" paint-order="stroke" transform="translate(745.5 428.7) skewX(-14) translate(-745.5 -428.7)" textLength="25" lengthAdjust="spacingAndGlyphs">S</text>
<rect x="773" y="407.4" width="7.6" height="1.5"/>
<rect x="772" y="409.8" width="8.6" height="1.5"/>
<rect x="771.2" y="412.2" width="9.4" height="1.5"/>
<rect x="771" y="414.6" width="9.6" height="1.5"/>
<rect x="770.5" y="417" width="10.1" height="1.5"/>
<rect x="769.5" y="419.4" width="11.1" height="1.5"/>
<rect x="768" y="421.8" width="12.6" height="1.5"/>
<rect x="766" y="424.2" width="14.6" height="1.5"/>
<rect x="762" y="426.6" width="18.6" height="1.5"/>
</g>
<text x="716" y="437" font-size="6" fill="#666" textLength="74" lengthAdjust="spacingAndGlyphs">Alternators, Starters &amp; Parts</text>
<!-- PL_2300 -->
<text x="839.9" y="548.5" font-size="10" font-weight="bold" fill="#ff0d0d" stroke="#ff0d0d" stroke-width="0.25" textLength="46" lengthAdjust="spacingAndGlyphs">PL_2300</text>
<!-- connector -->
<g fill="none" stroke="#111" stroke-width="2.3">
<path d="M853.1,566.3 H881 Q886.7,566.3 886.7,572 V589.6 Q886.7,595.3 881,595.3 H853.1 A14.5,14.5 0 0 1 853.1,566.3 Z"/>
<path d="M845.2,580.8 H856.4 M868.2,580.8 H879.8" stroke-width="1.9"/>
</g>
<g fill="#111">
<rect x="859.7" y="563.4" width="7.2" height="3"/>
<rect x="869.5" y="566" width="4.7" height="3.5"/>
<rect x="886" y="576.1" width="2.8" height="9.3"/>
<rect x="853.7" y="591.8" width="4.6" height="3.5"/>
<rect x="869.5" y="591.8" width="4.7" height="3.5"/>
</g>
<text x="848.3" y="610.4" font-size="10" font-weight="bold" fill="#111" stroke="#111" stroke-width="0.35">L</text>
<text x="864.9" y="610.4" font-size="10" font-weight="bold" fill="#111" stroke="#111" stroke-width="0.35" textLength="21.1" lengthAdjust="spacingAndGlyphs">DFM</text>
<!-- legend -->
<rect x="808" y="530" width="1" height="148" fill="#f6f6f6"/>
<g fill="#d9d9d9">
<rect x="819.5" y="626.7" width="17.2" height="8.4"/>
<rect x="838.7" y="626.7" width="69.2" height="8.4"/>
<rect x="819.5" y="643.2" width="17.2" height="8.3"/>
<rect x="838.7" y="643.2" width="69.2" height="8.3"/>
<rect x="819.5" y="659.7" width="17.2" height="8.4"/>
<rect x="838.7" y="659.7" width="69.2" height="8.4"/>
</g>
<text x="826.4" y="633.2" font-size="6" font-weight="bold" fill="#222">L</text>
<text x="821.2" y="641.8" font-size="6" font-weight="bold" fill="#222" textLength="14.9" lengthAdjust="spacingAndGlyphs">DFM</text>
<text x="841.9" y="633.2" font-size="6" fill="#666" textLength="17.5" lengthAdjust="spacingAndGlyphs">Lamp</text>
<text x="841.9" y="641.8" font-size="6" fill="#666" textLength="31.7" lengthAdjust="spacingAndGlyphs">Feedback</text>
</svg>

<div class="t" style="left:40px;top:386px;letter-spacing:-0.2px;">AS index: <b>A0457S</b></div>
<div class="t" style="left:40px;top:416px;color:#fa1419;font-weight:bold;letter-spacing:-0.65px;">STANDARD LINE</div>
<div class="t" style="left:320px;top:386px;">Brand new AS-PL Alternator</div>
<div class="t" style="left:320px;top:416px;">Product type: <b style="letter-spacing:-0.7px">Brand new</b></div>
<div class="t" style="left:689px;top:386px;letter-spacing:-0.27px;">Producer: <b>AS-PL</b></div>
<div class="a tb" style="left:10px;top:447px;width:778px;height:226px;"></div>
<div class="c l" style="left:12px;top:449px;"><span>Voltage</span></div>
<div class="c v" style="left:206px;top:449px;"><span>12 V</span></div>
<div class="c l" style="left:400px;top:449px;"><span>Amp.</span></div>
<div class="c v" style="left:594px;top:449px;"><span>140 A</span></div>
<div class="c l" style="left:12px;top:477px;"><span>Size A</span></div>
<div class="c v" style="left:206px;top:477px;"><span>29.00 mm</span></div>
<div class="c l" style="left:400px;top:477px;"><span>Size C</span></div>
<div class="c v" style="left:594px;top:477px;"><span>56.00 mm</span></div>
<div class="c l" style="left:12px;top:505px;"><span>G</span></div>
<div class="c v" style="left:206px;top:505px;"><span>6 qty.</span></div>
<div class="c l" style="left:400px;top:505px;"><span>O.D.1</span></div>
<div class="c v" style="left:594px;top:505px;"><span>56.00 mm</span></div>
<div class="c l" style="left:12px;top:533px;"><span>Pulley</span></div>
<div class="c v" style="left:206px;top:533px;"><span style="right:5.8px">AFP</span></div>
<div class="c l" style="left:400px;top:533px;"><span>D.1</span></div>
<div class="c v" style="left:594px;top:533px;"><span>9.00 mm</span></div>
<div class="c l" style="left:12px;top:561px;"><span>D.2</span></div>
<div class="c v" style="left:206px;top:561px;"><span>9.00 mm</span></div>
<div class="c l" style="left:400px;top:561px;"><span>D.3</span></div>
<div class="c v" style="left:594px;top:561px;"><span>9.50 mm</span></div>
<div class="c l" style="left:12px;top:589px;"><span>D.4</span></div>
<div class="c v" style="left:206px;top:589px;"><span>9.50 mm</span></div>
<div class="c l" style="left:400px;top:589px;"><span>E.1</span></div>
<div class="c v" style="left:594px;top:589px;"><span>70.00 mm</span></div>
<div class="c l" style="left:12px;top:617px;"><span>E.2</span></div>
<div class="c v" style="left:206px;top:617px;"><span>70.00 mm</span></div>
<div class="c l" style="left:400px;top:617px;"><span>L.1</span></div>
<div class="c v" style="left:594px;top:617px;"><span>200.00 mm</span></div>
<div class="c l" style="left:12px;top:645px;"><span>Plug</span></div>
<div class="c v" style="left:206px;top:645px;"><span style="right:5.8px">PL_2300</span></div>
<div class="c l" style="left:400px;top:645px;"><span></span></div>
<div class="c v" style="left:594px;top:645px;"><span></span></div>
</body></html>
